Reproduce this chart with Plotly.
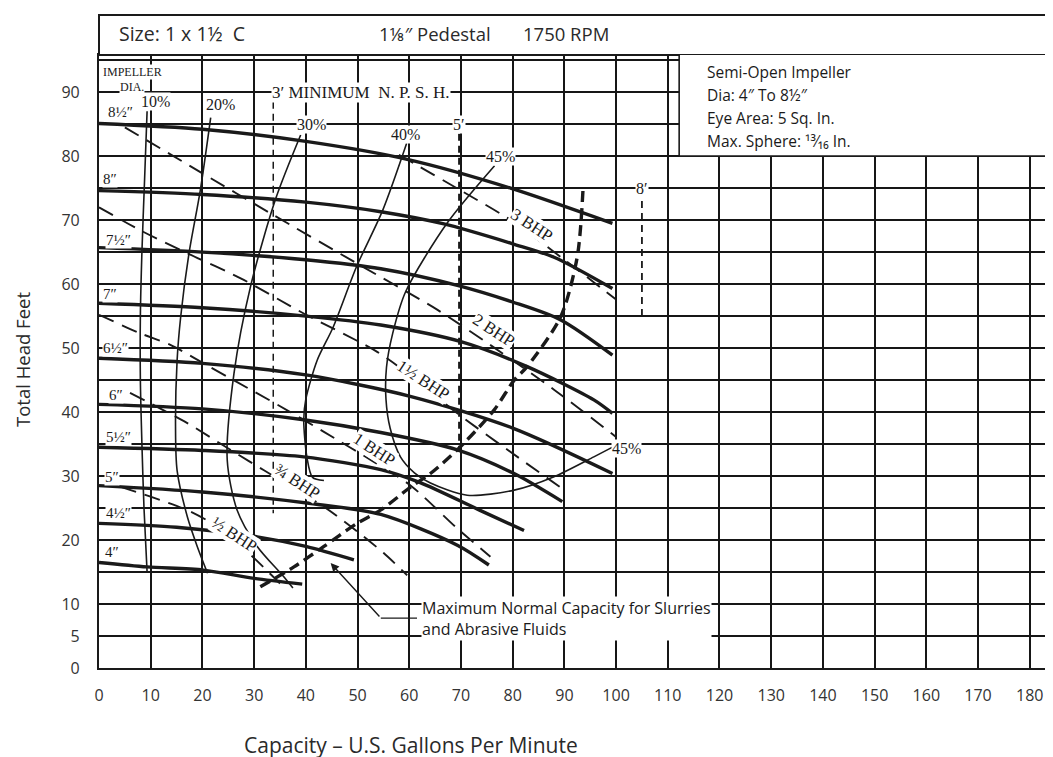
import plotly.graph_objects as go

# ---------------- data ----------------
diam_labels = ['8½″', '8″', '7½″', '7″', '6½″', '6″', '5½″', '5″', '4½″', '4″']

hq_850_q = [0, 20, 40, 59.6, 79.6, 99.3]
hq_850_h = [85.1, 84.2, 82.3, 79.5, 75.0, 69.5]
hq_800_q = [0, 20, 40, 54.5, 66.7, 80, 88, 99.3]
hq_800_h = [74.6, 74.0, 72.8, 71.3, 69.4, 66.3, 64.2, 59.3]
hq_750_q = [0, 20, 40, 54.5, 69.3, 80, 89.3, 99.3]
hq_750_h = [65.7, 65.0, 63.8, 62.4, 59.8, 57.2, 54.4, 48.9]
hq_700_q = [0, 20, 40, 54.5, 70, 82.8, 95.7, 99.3]
hq_700_h = [57.0, 56.3, 55.0, 53.6, 51.0, 47.1, 41.9, 39.8]
hq_650_q = [0, 20, 40, 60, 80, 99.3]
hq_650_h = [48.4, 47.6, 45.8, 42.5, 37.5, 30.4]
hq_600_q = [0, 20, 39.6, 54.5, 69.3, 80, 89.6]
hq_600_h = [41.2, 40.5, 38.8, 36.8, 34.1, 30.5, 26.0]
hq_550_q = [0, 20, 39.6, 54.5, 62, 73.8, 82.2]
hq_550_h = [34.5, 34.0, 33.0, 31.0, 29.0, 24.6, 21.5]
hq_500_q = [0, 20, 41, 54.5, 69.3, 75.4]
hq_500_h = [28.5, 27.5, 25.7, 24.0, 19.2, 16.1]
hq_450_q = [0, 15, 30.6, 40, 49.3]
hq_450_h = [22.6, 22.0, 20.5, 19.0, 16.9]
hq_400_q = [0, 9.3, 20.2, 30, 39.3]
hq_400_h = [16.5, 15.8, 15.3, 14.0, 13.1]

eff_labels = ['10%', '20%', '30%', '40%', '45%', '45%']
eff10_q = [9.3, 8.8, 8.3, 8.0, 8.0, 8.3, 8.7, 9.3]
eff10_h = [87, 76, 65, 55, 45, 35, 25, 15]
eff20_q = [21.6, 19.6, 17.4, 15.8, 15.1, 14.8, 15.1, 17.1, 19.0, 21.0]
eff20_h = [86, 74.7, 64.8, 54.9, 48, 37.7, 30.9, 23.6, 19.0, 14.8]
eff30_q = [39.0, 34.2, 29.3, 26.1, 24.8, 26.7, 30.6, 35.7, 37.5]
eff30_h = [83.3, 73.4, 59.6, 46.0, 32.5, 24.7, 19.0, 14.3, 12.5]
eff40_q = [59.5, 54.9, 49.8, 45.3, 42.2, 40.0, 39.6, 40.2, 41.3, 43.5]
eff40_h = [82, 71.6, 62.7, 53.3, 48.1, 42.0, 38.8, 33.0, 29.8, 29.3]
eff45_q = [76.5, 67.3, 59.3, 56.8, 55.6, 55.5, 56.3, 58.3, 61.0, 64.1, 71.2, 80.3, 88.0, 95.7, 99.5]
eff45_h = [78.5, 69.5, 58.8, 52.3, 47.0, 42.0, 37.5, 33.0, 30.5, 28.9, 27.0, 27.8, 29.9, 33.0, 34.6]

bhp_labels = ['3 BHP', '2 BHP', '1½ BHP', '1 BHP', '¾ BHP', '½ BHP']
bhp3_q = [58, 69.6, 80, 90, 100]
bhp3_h = [80.2, 74.8, 69.8, 63.8, 57.6]
bhp2_q = [5, 19.6, 33.5, 49.3, 65.4, 76, 88, 100]
bhp2_h = [84.5, 77.5, 70.9, 63.5, 56.0, 50.3, 43.5, 36.1]
bhp15_q = [0, 8, 17.1, 27.4, 39.6, 53.8, 62, 69.3, 79, 90]
bhp15_h = [72, 68.4, 64.8, 60.9, 55.4, 49.4, 44.6, 39.8, 34.1, 27.8]
bhp1_q = [0, 8, 13.8, 20.9, 37, 43.5, 53, 60.3, 69.3, 75.7]
bhp1_h = [55.2, 52.3, 50.5, 47.3, 40, 36.9, 32.3, 28.5, 21.8, 17.4]
bhp075_q = [6, 17, 25.4, 31.9, 43.5, 50, 55, 59.6]
bhp075_h = [43, 38.3, 34.1, 30.9, 25.2, 21.3, 18, 14.5]
bhp05_q = [4.2, 17, 23, 29.3, 35]
bhp05_h = [28.3, 24.7, 22, 17.7, 13.2]

maxcap_q = [31.2, 37.7, 43.5, 49.9, 54.5, 60.3, 64.1, 69.3, 76.4, 80.3, 82.8, 89.3, 92.5, 93.6]
maxcap_h = [12.7, 15.8, 19.0, 22.6, 24.7, 28.3, 30.4, 34.1, 40.3, 45.0, 47.1, 54.9, 64.3, 74.7]

npsh_labels = ['3′ MINIMUM  N. P. S. H.', '5′', '8′']
npsh_q = [33.7, 69.7, 105.0]
npsh_top = [88.5, 83.5, 73.0]
npsh_bottom = [24.2, 34.1, 54.7]

x_ticks = list(range(0, 190, 10))
y_ticks = list(range(0, 100, 5))
y_ticktext = ['0', '5', '10', '', '20', '', '30', '', '40', '', '50', '', '60', '', '70', '', '80', '', '90', '']

# ---------------- figure ----------------
INK = '#1a1a1a'
SANS = 'Open Sans, Lato, sans-serif'
SERIF = 'Liberation Serif, DejaVu Serif, serif'

fig = go.Figure()

def add_line(q, h, width, dash='solid', shape='spline'):
    fig.add_trace(go.Scatter(x=q, y=h, mode='lines',
                             line=dict(color=INK, width=width, dash=dash, shape=shape, smoothing=0.8),
                             hoverinfo='skip', showlegend=False))

# efficiency curves
for q, h in [(eff10_q, eff10_h), (eff20_q, eff20_h), (eff30_q, eff30_h),
             (eff40_q, eff40_h), (eff45_q, eff45_h)]:
    add_line(q, h, 1.6)

# BHP lines
for q, h in [(bhp3_q, bhp3_h), (bhp2_q, bhp2_h), (bhp15_q, bhp15_h),
             (bhp1_q, bhp1_h), (bhp075_q, bhp075_h), (bhp05_q, bhp05_h)]:
    add_line(q, h, 1.9, dash='16px,9px')

# NPSH verticals
npsh_w = [1.5, 2.6, 1.8]
for i in range(3):
    add_line([npsh_q[i], npsh_q[i]], [npsh_top[i], npsh_bottom[i]], npsh_w[i], dash='7px,5px', shape='linear')

# head-capacity curves
for q, h in [(hq_850_q, hq_850_h), (hq_800_q, hq_800_h), (hq_750_q, hq_750_h),
             (hq_700_q, hq_700_h), (hq_650_q, hq_650_h), (hq_600_q, hq_600_h),
             (hq_550_q, hq_550_h), (hq_500_q, hq_500_h), (hq_450_q, hq_450_h),
             (hq_400_q, hq_400_h)]:
    add_line(q, h, 3.4)

# maximum normal capacity line
add_line(maxcap_q, maxcap_h, 3.4, dash='11px,6px')

annotations = []

def note(text, x, y, size=14, font=SERIF, angle=0, xanchor='center', bg='white', **kw):
    annotations.append(dict(text=text, x=x, y=y, xref='x', yref='y', showarrow=False,
                            font=dict(family=font, size=size, color=INK), textangle=angle,
                            xanchor=xanchor, yanchor='middle', bgcolor=bg, borderpad=0, **kw))

# impeller diameter labels
diam_pos_q = [4.1, 2.2, 3.8, 2.2, 3.2, 3.2, 3.8, 2.6, 3.8, 2.6]
diam_pos_h = [86.9, 76.5, 66.9, 58.5, 50.0, 42.7, 36.1, 29.9, 24.2, 18.2]
for lbl, q, h in zip(diam_labels, diam_pos_q, diam_pos_h):
    note(lbl, q, h, size=15)

note('IMPELLER', 0.6, 93.1, size=12, xanchor='left')
note('DIA.', 3.8, 90.8, size=12, xanchor='left')

# efficiency labels
eff_pos_q = [11.0, 23.5, 41.0, 59.3, 77.6, 102.1]
eff_pos_h = [88.5, 88.0, 85.0, 83.3, 80.0, 34.3]
for lbl, q, h in zip(eff_labels, eff_pos_q, eff_pos_h):
    note(lbl, q, h, size=16)

# BHP labels
bhp_pos_q = [83.8, 76.4, 62.8, 53.2, 38.3, 26.1]
bhp_pos_h = [69.2, 52.8, 45.0, 34.1, 29.1, 20.8]
for lbl, q, h in zip(bhp_labels, bhp_pos_q, bhp_pos_h):
    note(lbl, q, h, size=17, angle=33)

# NPSH labels
note(npsh_labels[0], 33.2, 90.0, size=17, xanchor='left')
note(npsh_labels[1], 69.7, 85.0, size=16)
note(npsh_labels[2], 105.0, 75.0, size=16)

# info box text
info_lines = ['Semi-Open Impeller', 'Dia: 4″ To 8½″', 'Eye Area: 5 Sq. In.', 'Max. Sphere: ¹³⁄₁₆ In.']
info_h = [93.1, 89.5, 85.9, 82.3]
for t, h in zip(info_lines, info_h):
    note(t, 117.4, h, size=15.5, font=SANS, xanchor='left', bg='rgba(0,0,0,0)')

# slurry note
note('Maximum Normal Capacity for Slurries<br>and Abrasive Fluids', 62.2, 7.7, size=16,
     font=SANS, xanchor='left', align='left')
annotations.append(dict(x=44.8, y=16.4, ax=54.5, ay=7.8, xref='x', yref='y', axref='x', ayref='y',
                        text='', showarrow=True, arrowhead=2, arrowsize=1.2, arrowwidth=1.4,
                        arrowcolor=INK))

# header texts and axis titles (paper coordinates, given in screen pixels)
PH = 613.0
PW = 954.0
def paper_note(text, px, py, size, angle=0, xanchor='left'):
    annotations.append(dict(text=text, x=(px - 99) / PW, y=(668 - py) / PH, xref='paper', yref='paper',
                            showarrow=False, textangle=angle, xanchor=xanchor, yanchor='middle',
                            font=dict(family=SANS, size=size, color='#2a2a2a')))

paper_note('Size: 1 x 1½  C', 117, 33, 19.5)
paper_note('1⅛″ Pedestal', 377, 33, 18.5)
paper_note('1750 RPM', 521, 33, 18.5)
paper_note('Total Head Feet', 22, 360, 18.5, angle=-90, xanchor='center')
paper_note('Capacity – U.S. Gallons Per Minute', 411, 745, 21, xanchor='center')

shapes = [
    # header box
    dict(type='rect', xref='paper', yref='paper', x0=0, x1=1.02, y0=1, y1=1 + 40 / PH,
         line=dict(color=INK, width=2), fillcolor='white', layer='above'),
    # info box
    dict(type='rect', xref='x', yref='y', x0=112.2, x1=190, y0=80, y1=96,
         line=dict(color=INK, width=1.6), fillcolor='white', layer='above'),
    # leader horizontal
    dict(type='line', xref='x', yref='y', x0=54.5, x1=61.5, y0=7.8, y1=7.8,
         line=dict(color=INK, width=1.4), layer='above'),
]

# the page adds an 8 px body margin, so the plot area sits at screen x 99..1053, y 55..668
fig.update_layout(
    width=1053, height=757,
    margin=dict(l=91, r=8, t=47, b=97),
    paper_bgcolor='white', plot_bgcolor='white',
    annotations=annotations, shapes=shapes,
    showlegend=False,
)
fig.update_xaxes(range=[0, 184.5], tickvals=x_ticks, showgrid=True, gridcolor='#161616', gridwidth=1.5,
                 zeroline=False, showline=True, linecolor=INK, linewidth=2.2, mirror=True,
                 ticks='', ticklabelstandoff=12,
                 tickfont=dict(family=SANS, size=16, color='#333'))
fig.update_yaxes(range=[0, 95.8], tickvals=y_ticks, ticktext=y_ticktext, showgrid=True,
                 gridcolor='#161616', gridwidth=1.5, zeroline=False, showline=True, linecolor=INK,
                 linewidth=2.2, ticks='', ticklabelstandoff=14,
                 tickfont=dict(family=SANS, size=16, color='#333'))

fig.write_html('out.html')
